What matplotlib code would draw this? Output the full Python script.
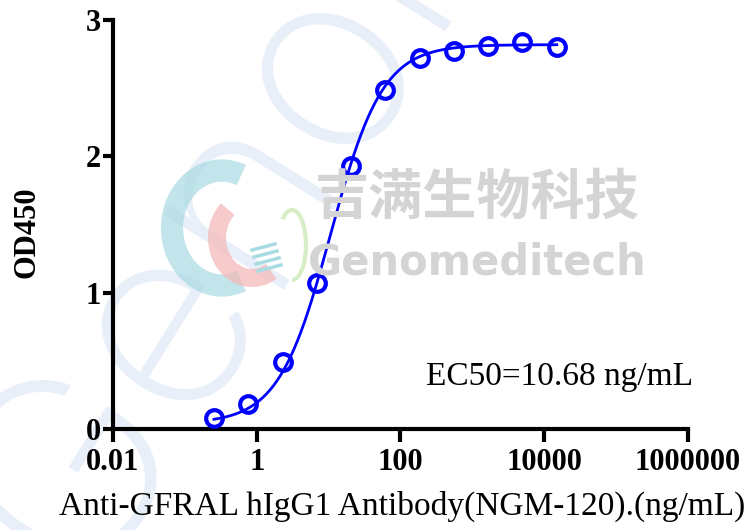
import matplotlib
matplotlib.use('Agg')
import matplotlib.pyplot as plt
from matplotlib.textpath import TextPath
from matplotlib.patches import PathPatch, Arc
from matplotlib.font_manager import FontProperties
import matplotlib.transforms as mtransforms
import numpy as np

# concentration series (ng/mL) and measured OD450
conc = [0.254, 0.762, 2.29, 6.86, 20.6, 61.7, 185, 556, 1667, 5000, 15000]
od450 = [0.08, 0.18, 0.49, 1.07, 1.93, 2.49, 2.72, 2.77, 2.81, 2.84, 2.80]

# 4PL fit parameters
bottom, top, ec50, hill = 0.04, 2.82, 10.68, 1.2

xticks = [0.01, 1, 100, 10000, 1000000]
xticklabels = ['0.01', '1', '100', '10000', '1000000']
yticks = [0, 1, 2, 3]

blue = '#0000ff'
serif = 'Liberation Serif'

fig = plt.figure(figsize=(7.46, 5.30), dpi=100)

# --- background watermark (drawn as paths, in pixel coords) ---
bg = fig.add_axes([0, 0, 1, 1], zorder=0)
bg.set_xlim(0, 746)
bg.set_ylim(530, 0)
bg.axis('off')

tp = TextPath((0, 0), 'Genome', size=260,
              prop=FontProperties(family='Inter', weight=200))
tr = mtransforms.Affine2D().scale(1, -1).rotate_deg(-58).translate(90, 600)
bg.add_patch(PathPatch(tr.transform_path(tp), fc='#e9eff9', ec='none'))

# logo
bg.add_patch(Arc((222, 228), 100, 115, angle=0, theta1=70, theta2=290,
                 color='#a9dbe3', lw=16, alpha=0.7))
bg.add_patch(Arc((252, 238), 70, 80, angle=0, theta1=60, theta2=230,
                 color='#f4b6b6', lw=13, alpha=0.7))
bg.add_patch(Arc((292, 245), 28, 70, angle=0, theta1=-110, theta2=90,
                 color='#d3ebc0', lw=3, alpha=0.9))
for k in range(4):
    bg.plot([252 + 2 * k, 275 + 2 * k], [250 + 7 * k, 244 + 7 * k],
            color='#a9dbe3', lw=2.5)

fig.text(0.64, 0.626, '吉满生物科技', family='Noto Sans CJK SC', weight='bold',
         fontsize=39, color='#d4d4d4', ha='center', va='center')
fig.text(0.64, 0.504, 'Genomeditech', family='DejaVu Sans', weight='bold',
         fontsize=30, color='#d4d4d4', ha='center', va='center')

# --- main chart ---
ax = fig.add_axes([0.1515, 0.1906, 0.7705, 0.7714], zorder=2)
ax.patch.set_alpha(0)

xs = np.logspace(np.log10(conc[0]), np.log10(conc[-1]), 300)
fit = bottom + (top - bottom) / (1 + (ec50 / xs) ** hill)
ax.plot(xs, fit, color=blue, lw=2.0, zorder=3)
ax.plot(conc, od450, 'o', mfc='none', mec=blue, mew=3, ms=12, zorder=4)

ax.set_xscale('log')
ax.set_xlim(0.01, 1000000)
ax.set_ylim(0, 3)
ax.set_xticks(xticks)
ax.set_xticklabels(xticklabels)
ax.minorticks_off()
ax.set_yticks(yticks)
for lab in ax.get_xticklabels() + ax.get_yticklabels():
    lab.set_family(serif)
    lab.set_weight('bold')
    lab.set_fontsize(22)

for s in ['top', 'right']:
    ax.spines[s].set_visible(False)
for s in ['left', 'bottom']:
    ax.spines[s].set_linewidth(3)
ax.tick_params(axis='y', width=3, length=7, pad=2)
ax.tick_params(axis='x', width=3, length=9, pad=5)

ax.set_ylabel('OD450', family=serif, weight='bold', fontsize=22, va='center')
ax.yaxis.set_label_coords(-0.15, 0.48)
ax.set_xlabel('Anti-GFRAL hIgG1 Antibody(NGM-120).(ng/mL)', family=serif,
              fontsize=24, va='center')
ax.xaxis.set_label_coords(0.503, -0.19)
ax.text(0.777, 0.127, 'EC50=10.68 ng/mL', transform=ax.transAxes, family=serif,
        fontsize=24, ha='center', va='center')

fig.savefig('out.png', dpi=100)
